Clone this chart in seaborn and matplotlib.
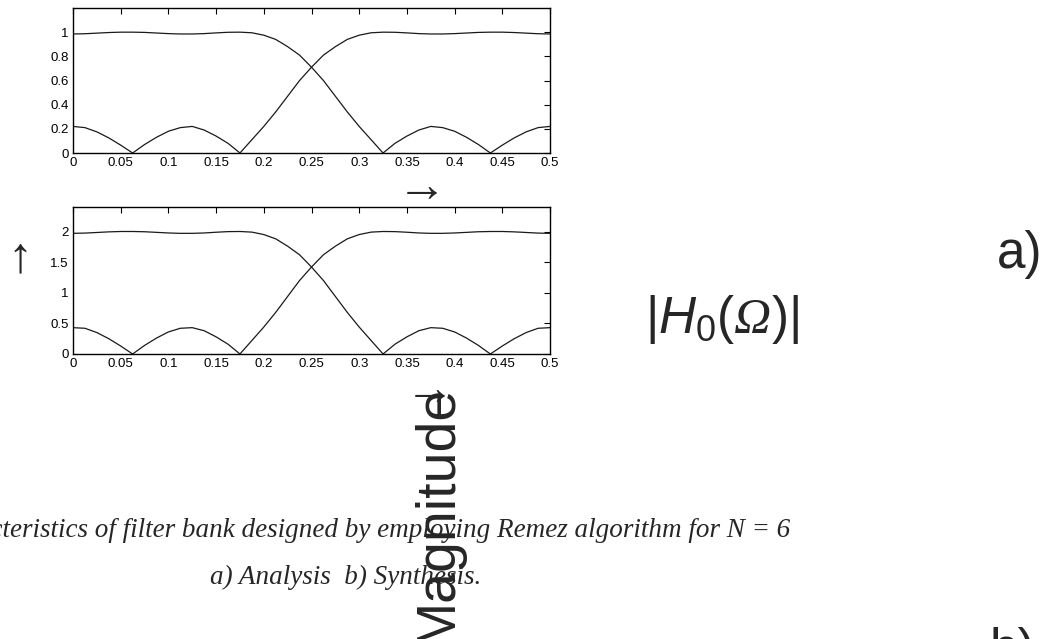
# plot.py
# Filter bank magnitude responses (Remez, N = 6): analysis (top) / synthesis (bottom)

import numpy as np
import pandas as pd
import matplotlib
matplotlib.use("Agg")
import matplotlib.pyplot as plt
from matplotlib.ticker import FixedLocator, FixedFormatter
import seaborn as sns

# ---------------------------------------------------------------
# data
FREQ = [0.0, 0.0125, 0.025, 0.0375, 0.05, 0.0625, 0.075, 0.0875, 0.1, 0.1125,
        0.125, 0.1375, 0.15, 0.1625, 0.175, 0.1875, 0.2, 0.2125, 0.225, 0.2375,
        0.25, 0.2625, 0.275, 0.2875, 0.3, 0.3125, 0.325, 0.3375, 0.35, 0.3625,
        0.375, 0.3875, 0.4, 0.4125, 0.425, 0.4375, 0.45, 0.4625, 0.475, 0.4875, 0.5]

H0_ANALYSIS = [0.985, 0.987, 0.992, 0.997, 1.0, 1.0, 0.998, 0.993, 0.988, 0.985,
               0.985, 0.988, 0.994, 0.999, 1.0, 0.995, 0.975, 0.94, 0.88, 0.81,
               0.71, 0.60, 0.47, 0.34, 0.22, 0.11, 0.0, 0.08, 0.14, 0.19,
               0.22, 0.21, 0.18, 0.13, 0.07, 0.0, 0.065, 0.125, 0.175, 0.21, 0.22]

H1_ANALYSIS = [0.22, 0.21, 0.175, 0.125, 0.065, 0.0, 0.07, 0.13, 0.18, 0.21,
               0.22, 0.19, 0.14, 0.08, 0.0, 0.11, 0.22, 0.34, 0.47, 0.60,
               0.71, 0.81, 0.88, 0.94, 0.975, 0.995, 1.0, 0.999, 0.994, 0.988,
               0.985, 0.985, 0.988, 0.993, 0.998, 1.0, 1.0, 0.997, 0.992, 0.987, 0.985]

F0_SYNTHESIS = [1.97, 1.974, 1.984, 1.994, 2.0, 2.0, 1.996, 1.986, 1.976, 1.97,
                1.97, 1.976, 1.988, 1.998, 2.0, 1.99, 1.95, 1.88, 1.76, 1.62,
                1.42, 1.20, 0.94, 0.68, 0.44, 0.22, 0.0, 0.16, 0.28, 0.38,
                0.43, 0.42, 0.36, 0.26, 0.14, 0.0, 0.13, 0.25, 0.35, 0.42, 0.43]

F1_SYNTHESIS = [0.43, 0.42, 0.35, 0.25, 0.13, 0.0, 0.14, 0.26, 0.36, 0.42,
                0.43, 0.38, 0.28, 0.16, 0.0, 0.22, 0.44, 0.68, 0.94, 1.20,
                1.42, 1.62, 1.76, 1.88, 1.95, 1.99, 2.0, 1.998, 1.988, 1.976,
                1.97, 1.97, 1.976, 1.986, 1.996, 2.0, 2.0, 1.994, 1.984, 1.974, 1.97]

X_TICKS = [0, 0.05, 0.1, 0.15, 0.2, 0.25, 0.3, 0.35, 0.4, 0.45, 0.5]
X_LABELS = ["0", "0.05", "0.1", "0.15", "0.2", "0.25", "0.3", "0.35", "0.4", "0.45", "0.5"]
Y_TICKS_TOP = [0, 0.2, 0.4, 0.6, 0.8, 1.0]
Y_LABELS_TOP = ["0", "0.2", "0.4", "0.6", "0.8", "1"]
Y_TICKS_BOT = [0, 0.5, 1.0, 1.5, 2.0]
Y_LABELS_BOT = ["0", "0.5", "1", "1.5", "2"]

CAPTION_1 = "Characteristics of filter bank designed by employing Remez algorithm for N = 6"
CAPTION_2 = "a) Analysis  b) Synthesis."
# ---------------------------------------------------------------

W, H = 1057, 639


def fx(x):
    return x / W


def fy(y):
    return 1 - y / H


def style_axes(ax, yticks, ylabels, ymax):
    ax.set_xlim(0, 0.5)
    ax.set_ylim(0, ymax)
    ax.xaxis.set_major_locator(FixedLocator(X_TICKS))
    ax.xaxis.set_major_formatter(FixedFormatter(X_LABELS))
    ax.yaxis.set_major_locator(FixedLocator(yticks))
    ax.yaxis.set_major_formatter(FixedFormatter(ylabels))
    ax.tick_params(direction="in", length=4, width=0.8, top=True, right=True,
                   labelsize=9.5, pad=3, colors="black")
    for s in ax.spines.values():
        s.set_visible(True)
        s.set_linewidth(1.0)
        s.set_color("black")
    ax.set_xlabel("")
    ax.set_ylabel("")


def main():
    sns.set_theme(style="white")
    plt.rcParams["font.family"] = ["Liberation Sans", "DejaVu Sans"]
    plt.rcParams["mathtext.fontset"] = "custom"
    plt.rcParams["mathtext.rm"] = "Liberation Sans"
    plt.rcParams["mathtext.it"] = "Liberation Sans:italic"
    plt.rcParams["mathtext.cal"] = "Liberation Serif:italic"

    top = pd.DataFrame({"f": FREQ * 2,
                        "mag": H0_ANALYSIS + H1_ANALYSIS,
                        "filt": ["H0"] * len(FREQ) + ["H1"] * len(FREQ)})
    bot = pd.DataFrame({"f": FREQ * 2,
                        "mag": F0_SYNTHESIS + F1_SYNTHESIS,
                        "filt": ["F0"] * len(FREQ) + ["F1"] * len(FREQ)})

    fig = plt.figure(figsize=(W / 100, H / 100), dpi=100)
    fig.patch.set_facecolor("white")

    # axes boxes (pixel positions from the reference)
    ax1 = fig.add_axes([fx(73), fy(153), fx(550) - fx(73), (153 - 8) / H])
    ax2 = fig.add_axes([fx(73), fy(354), fx(550) - fx(73), (354 - 207) / H])

    pal_top = {"H0": "#1a1a1a", "H1": "#1a1a1a"}
    pal_bot = {"F0": "#1a1a1a", "F1": "#1a1a1a"}
    sns.lineplot(data=top, x="f", y="mag", hue="filt", palette=pal_top,
                 linewidth=0.9, ax=ax1, legend=False)
    sns.lineplot(data=bot, x="f", y="mag", hue="filt", palette=pal_bot,
                 linewidth=0.9, ax=ax2, legend=False)

    style_axes(ax1, Y_TICKS_TOP, Y_LABELS_TOP, 1.2)
    style_axes(ax2, Y_TICKS_BOT, Y_LABELS_BOT, 2.4)

    # arrows / axis hints
    arrow_font = ["Liberation Sans", "DejaVu Sans"]
    fig.text(fx(422), fy(188), "\u2192", fontsize=36, ha="center", va="center",
             family=arrow_font)
    fig.text(fx(430), fy(391), "\u2192", fontsize=36, ha="center", va="center",
             family=arrow_font)
    fig.text(fx(20), fy(258), "\u2191", fontsize=36, ha="center", va="center",
             family=arrow_font)

    # rotated label
    fig.text(fx(438), fy(385), "Magnitude", fontsize=40, rotation=90,
             ha="center", va="top")

    # |H0(Omega)|
    fig.text(fx(645), fy(333), r"$|H_0(\mathcal{Ω})|$", fontsize=37,
             ha="left", va="baseline")

    fig.text(fx(997), fy(268), "a)", fontsize=37, ha="left", va="baseline")
    fig.text(fx(990), fy(665), "b)", fontsize=37, ha="left", va="baseline")

    # caption
    fig.text(fx(790), fy(537), CAPTION_1, fontsize=19.5, ha="right", va="baseline",
             family="Liberation Serif", style="italic")
    fig.text(fx(346), fy(584), CAPTION_2, fontsize=19.5, ha="center", va="baseline",
             family="Liberation Serif", style="italic")

    fig.savefig("out.png", dpi=100, facecolor="white")
    plt.close(fig)


if __name__ == "__main__":
    main()
